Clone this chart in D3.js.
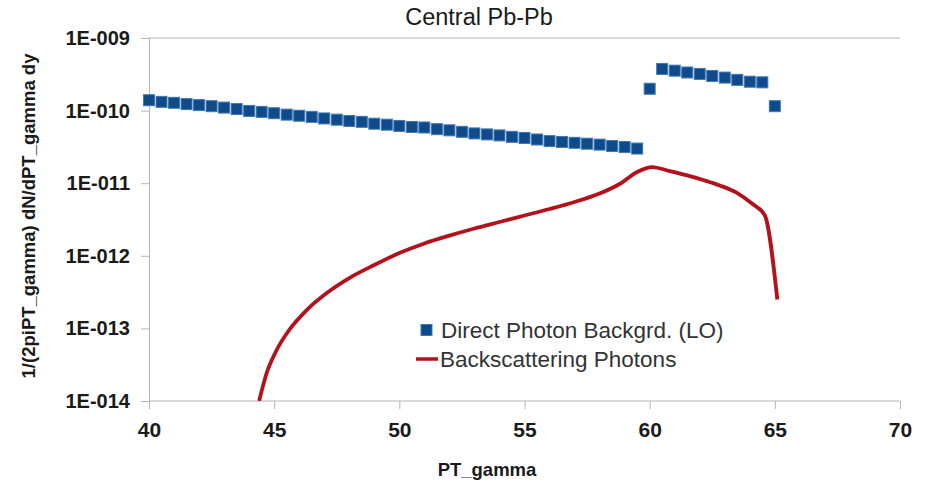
<!DOCTYPE html>
<html>
<head>
<meta charset="utf-8">
<script src="https://cdn.jsdelivr.net/npm/d3@7"></script>
<style>
  html, body { margin: 0; padding: 0; background: #ffffff; }
  svg { display: block; font-family: "Liberation Sans", Arial, sans-serif; }
</style>
</head>
<body>
<svg id="chart" width="926" height="483"></svg>
<script>
// Direct photon background (LO), PT_gamma in GeV
const directPt = [
  40, 40.5, 41, 41.5, 42, 42.5, 43, 43.5, 44, 44.5,
  45, 45.5, 46, 46.5, 47, 47.5, 48, 48.5, 49, 49.5,
  50, 50.5, 51, 51.5, 52, 52.5, 53, 53.5, 54, 54.5,
  55, 55.5, 56, 56.5, 57, 57.5, 58, 58.5, 59, 59.5,
  60, 60.5, 61, 61.5, 62, 62.5, 63, 63.5, 64, 64.5, 65
];
const directValues = [
  1.39e-10, 1.32e-10, 1.28e-10, 1.23e-10, 1.19e-10, 1.15e-10, 1.10e-10, 1.05e-10, 9.9e-11, 9.6e-11,
  9.2e-11, 8.8e-11, 8.5e-11, 8.2e-11, 7.8e-11, 7.5e-11, 7.2e-11, 7.0e-11, 6.6e-11, 6.4e-11,
  6.15e-11, 5.95e-11, 5.85e-11, 5.55e-11, 5.35e-11, 5.1e-11, 4.85e-11, 4.7e-11, 4.55e-11, 4.35e-11,
  4.2e-11, 4.0e-11, 3.8e-11, 3.7e-11, 3.6e-11, 3.5e-11, 3.4e-11, 3.25e-11, 3.15e-11, 3.0e-11,
  2.0e-10, 3.75e-10, 3.55e-10, 3.35e-10, 3.2e-10, 3.0e-10, 2.85e-10, 2.65e-10, 2.5e-10, 2.45e-10, 1.15e-10
];

// Backscattering photons
const backPt = [
  44.4, 44.7, 45.1, 45.6, 46.3, 47.1, 48.0, 49.0, 50.0, 51.0,
  52.0, 53.0, 54.0, 55.0, 56.0, 57.0, 58.0, 58.8, 59.5, 60.1,
  60.8, 61.5, 62.2, 62.8, 63.5, 64.1, 64.6, 65.1
];
const backValues = [
  1.0e-14, 2.43e-14, 5.04e-14, 9.5e-14, 1.79e-13, 3.07e-13, 4.94e-13, 7.46e-13, 1.09e-12, 1.48e-12,
  1.9e-12, 2.38e-12, 2.92e-12, 3.59e-12, 4.41e-12, 5.51e-12, 7.21e-12, 9.75e-12, 1.43e-11, 1.67e-11,
  1.47e-11, 1.28e-11, 1.09e-11, 9.3e-12, 7.3e-12, 5.2e-12, 3.6e-12, 2.5e-13
];

const xTicks = [40, 45, 50, 55, 60, 65, 70];
const yTicks = [1e-9, 1e-10, 1e-11, 1e-12, 1e-13, 1e-14];
const yTickLabels = ["1E-009", "1E-010", "1E-011", "1E-012", "1E-013", "1E-014"];

const title = "Central Pb-Pb";
const xTitle = "PT_gamma";
const yTitle = "1/(2piPT_gamma) dN/dPT_gamma dy";
const seriesNames = ["Direct Photon Backgrd. (LO)", "Backscattering Photons"];

const plot = { left: 149, right: 900, top: 38, bottom: 401 };
const axisColor = "#b4b4b4";
const squareFill = "#0f4a8a";
const squareStroke = "#3f78b4";
const lineColor = "#b3121c";

const svg = d3.select("#chart");

const x = d3.scaleLinear().domain([40, 70]).range([plot.left, plot.right]);
const y = d3.scaleLog().domain([1e-14, 1e-9]).range([plot.bottom, plot.top]);

// top frame line
svg.append("line")
  .attr("x1", plot.left).attr("x2", plot.right)
  .attr("y1", y(1e-9)).attr("y2", y(1e-9))
  .attr("stroke", axisColor).attr("stroke-width", 1);

// y axis
const yAxis = svg.append("g")
  .attr("transform", `translate(${plot.left},0)`)
  .call(d3.axisLeft(y).tickValues(yTicks).tickSize(8).tickPadding(11)
    .tickFormat((d, i) => yTickLabels[i]));
yAxis.selectAll("path, line").attr("stroke", axisColor);
yAxis.selectAll("text")
  .attr("fill", "#1a1a1a").attr("font-size", 20).attr("font-weight", "bold")
  .attr("font-family", "Liberation Sans, Arial, sans-serif");

// x axis
const xAxis = svg.append("g")
  .attr("transform", `translate(0,${plot.bottom})`)
  .call(d3.axisBottom(x).tickValues(xTicks).tickSize(8).tickPadding(13)
    .tickFormat(d3.format("d")));
xAxis.selectAll("path, line").attr("stroke", axisColor);
xAxis.select(".domain").attr("d", `M${plot.left},0H${plot.right}`);
xAxis.selectAll("text")
  .attr("fill", "#1a1a1a").attr("font-size", 21).attr("font-weight", "bold")
  .attr("font-family", "Liberation Sans, Arial, sans-serif");

// clip for the curve
svg.append("clipPath").attr("id", "plotClip")
  .append("rect")
  .attr("x", plot.left).attr("y", plot.top)
  .attr("width", plot.right - plot.left).attr("height", plot.bottom - plot.top);

// backscattering photons curve
const backData = backPt.map((p, i) => ({ p, v: backValues[i] }));
const line = d3.line()
  .x(d => x(d.p)).y(d => y(d.v))
  .curve(d3.curveMonotoneX);
svg.append("path")
  .datum(backData)
  .attr("clip-path", "url(#plotClip)")
  .attr("d", line)
  .attr("fill", "none")
  .attr("stroke", lineColor)
  .attr("stroke-width", 3.8)
  .attr("stroke-linejoin", "round");

// direct photon squares
const sq = 11;
const directData = directPt.map((p, i) => ({ p, v: directValues[i] }));
svg.append("g").selectAll("rect")
  .data(directData)
  .join("rect")
  .attr("x", d => x(d.p) - sq / 2)
  .attr("y", d => y(d.v) - sq / 2)
  .attr("width", sq).attr("height", sq)
  .attr("fill", squareFill)
  .attr("stroke", squareStroke).attr("stroke-width", 1);

// legend
const legend = svg.append("g").attr("transform", "translate(416,330)");
legend.append("rect")
  .attr("x", 5).attr("y", -5.5).attr("width", 11).attr("height", 11)
  .attr("fill", squareFill).attr("stroke", squareStroke).attr("stroke-width", 1);
legend.append("text")
  .attr("x", 25).attr("y", 7.8)
  .attr("font-size", 22.5).attr("fill", "#333333")
  .text(seriesNames[0]);
legend.append("line")
  .attr("x1", 0).attr("x2", 22).attr("y1", 29).attr("y2", 29)
  .attr("stroke", lineColor).attr("stroke-width", 3.5);
legend.append("text")
  .attr("x", 24).attr("y", 36.8)
  .attr("font-size", 22.5).attr("fill", "#333333")
  .text(seriesNames[1]);

// titles
svg.append("text")
  .attr("x", 479).attr("y", 25)
  .attr("text-anchor", "middle")
  .attr("font-size", 23.5).attr("fill", "#1a1a1a")
  .text(title);

svg.append("text")
  .attr("x", 487).attr("y", 476)
  .attr("text-anchor", "middle")
  .attr("font-size", 18.5).attr("font-weight", "bold").attr("fill", "#1a1a1a")
  .text(xTitle);

svg.append("text")
  .attr("transform", "translate(34.5,216) rotate(-90)")
  .attr("text-anchor", "middle")
  .attr("font-size", 18.5).attr("font-weight", "bold").attr("fill", "#1a1a1a")
  .text(yTitle);
</script>
</body>
</html>
